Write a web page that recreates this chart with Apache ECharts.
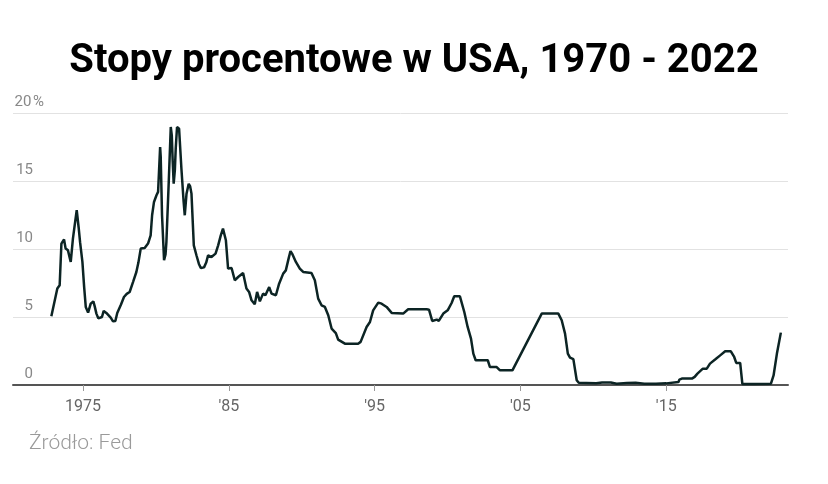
<!DOCTYPE html>
<html>
<head>
<meta charset="utf-8">
<script src="https://cdn.jsdelivr.net/npm/echarts@6/dist/echarts.min.js"></script>
<style>
html,body{margin:0;padding:0;background:#fff;}
#chart{width:828px;height:484px;}
</style>
</head>
<body>
<div id="chart"></div>
<script>
const titleText = 'Stopy procentowe w USA, 1970 - 2022';
const sourceText = 'Źródło: Fed';
const xTickYears = [1975, 1985, 1995, 2005, 2015];
const yTicks = [0, 5, 10, 15, 20];
const years = [
1972.83,1973.0,1973.24,1973.4,1973.52,1973.7,1973.81,1973.97,1974.1,1974.16,1974.31,1974.45,1974.57,1974.7,1974.8,1974.96,
1975.08,1975.19,1975.35,1975.53,1975.71,1975.8,1975.92,1976.05,1976.15,1976.3,1976.42,1976.49,1976.6,1976.72,1976.9,
1977.06,1977.22,1977.35,1977.45,1977.6,1977.81,1978.0,1978.2,1978.43,1978.66,1978.8,1978.96,1979.23,1979.46,1979.64,
1979.74,1979.87,1980.04,1980.15,1980.29,1980.33,1980.42,1980.56,1980.66,1980.72,1980.88,1981.02,1981.09,1981.15,
1981.22,1981.3,1981.36,1981.45,1981.59,1981.75,1981.9,1981.98,1982.1,1982.25,1982.35,1982.44,1982.6,1982.78,1982.95,
1983.08,1983.3,1983.45,1983.58,1983.81,1984.09,1984.27,1984.45,1984.6,1984.66,1984.8,1984.95,1985.19,1985.41,1985.64,
1985.98,1986.21,1986.39,1986.56,1986.78,1986.94,1987.13,1987.35,1987.51,1987.77,1987.93,1988.23,1988.45,1988.73,
1988.91,1989.1,1989.23,1989.37,1989.6,1989.87,1990.1,1990.67,1990.9,1991.13,1991.36,1991.59,1991.82,1992.05,1992.34,
1992.5,1992.96,1993.3,1993.87,1994.04,1994.45,1994.68,1994.9,1995.25,1995.48,1995.82,1996.17,1996.96,1997.3,1997.87,
1998.57,1998.73,1998.95,1999.26,1999.4,1999.71,2000.01,2000.28,2000.46,2000.85,2001.15,2001.38,2001.61,2001.77,2001.93,
2002.76,2002.91,2003.37,2003.6,2004.45,2006.46,2007.6,2007.83,2008.06,2008.25,2008.4,2008.63,2008.86,2009.0,2009.5,
2010.2,2010.6,2011.2,2011.6,2012.3,2012.9,2013.5,2014.3,2015.0,2015.84,2015.9,2016.07,2016.76,2016.95,2017.14,2017.51,
2017.78,2018.0,2018.35,2018.7,2019.04,2019.43,2019.66,2019.8,2020.07,2020.22,2021.0,2022.18,2022.36,2022.59,2022.86
];
const rates = [
5.05,5.9,7.09,7.33,10.4,10.7,10.03,9.9,9.3,9.05,10.76,11.9,12.85,11.6,10.5,9.05,
7.2,5.74,5.32,5.98,6.15,5.8,5.25,4.9,4.88,5.0,5.45,5.42,5.3,5.25,4.95,
4.68,4.7,5.3,5.37,5.9,6.47,6.7,6.84,7.57,8.31,9.0,10.03,10.07,10.4,11.0,
12.48,13.46,13.95,14.2,17.5,16.8,12.5,9.17,9.6,10.5,14.9,18.97,18.36,16.5,
14.8,15.8,17.4,18.97,18.85,15.9,13.5,12.48,14.07,14.8,14.6,14.07,10.27,9.54,8.9,
8.6,8.65,9.0,9.54,9.41,9.66,10.27,11.0,11.5,11.55,10.64,8.56,8.6,7.7,7.94,
8.24,7.09,6.84,6.23,5.93,6.84,6.15,6.72,6.6,7.2,6.72,6.6,7.45,8.19,
8.43,9.29,9.85,9.6,9.05,8.56,8.31,8.24,7.7,6.35,5.86,5.74,5.13,4.15,3.82,
3.34,3.04,3.04,3.04,3.17,4.27,4.63,5.49,6.06,5.98,5.74,5.3,5.25,5.57,5.57,
5.57,5.54,4.71,4.81,4.71,5.25,5.49,6.03,6.52,6.52,5.37,4.27,3.41,2.31,1.82,
1.82,1.32,1.32,1.08,1.08,5.25,5.25,4.76,3.78,2.31,2.01,1.9,0.35,0.16,0.15,
0.13,0.19,0.18,0.09,0.15,0.16,0.1,0.09,0.12,0.22,0.4,0.47,0.47,0.6,0.84,1.2,
1.2,1.57,1.87,2.18,2.48,2.48,2.06,1.62,1.62,0.08,0.08,0.1,0.7,2.31,3.85
];

const chart = echarts.init(document.getElementById('chart'), null, {renderer: 'canvas'});
const seriesData = years.map((y, i) => [y, rates[i]]);

chart.setOption({
  animation: false,
  backgroundColor: '#ffffff',
  title: [
    {
      text: titleText,
      left: 'center',
      top: 37,
      textStyle: {fontFamily: 'Roboto', fontWeight: 'bold', fontSize: 40, color: '#000'}
    },
    {
      text: sourceText,
      left: 24,
      top: 427,
      textStyle: {fontFamily: "'Roboto Light', Roboto", fontWeight: 300, fontSize: 21, color: '#9a9a9a'}
    }
  ],
  grid: {left: 13, right: 40, top: 113, bottom: 99, containLabel: false},
  xAxis: {
    type: 'value',
    min: 1970.2,
    max: 2023.35,
    splitLine: {show: false},
    axisLine: {show: true, lineStyle: {color: '#555', width: 2}},
    axisTick: {show: true, customValues: xTickYears, length: 6, lineStyle: {color: '#999', width: 1}},
    axisLabel: {
      customValues: xTickYears,
      margin: 14,
      fontFamily: 'Roboto',
      fontSize: 16,
      color: '#666',
      formatter: v => (Math.round(v) === 1975 ? '1975' : "'" + String(Math.round(v)).slice(2))
    }
  },
  yAxis: {
    type: 'value',
    min: 0,
    max: 20,
    interval: 5,
    axisLine: {show: false},
    axisTick: {show: false},
    splitLine: {show: true, lineStyle: {color: '#e2e2e2', width: 1}},
    axisLabel: {
      inside: true,
      margin: 0,
      verticalAlign: 'bottom',
      padding: [0, 0, 3, 0],
      fontFamily: 'Roboto',
      fontSize: 15,
      color: '#888',
      formatter: v => '{n|' + v + '}' + (v === 20 ? '{p|%}' : ''),
      rich: {
        n: {width: 20, align: 'right', fontFamily: 'Roboto', fontSize: 15, color: '#888'},
        p: {fontFamily: 'Roboto', fontSize: 15, color: '#888'}
      }
    }
  },
  series: [{
    type: 'line',
    data: seriesData,
    showSymbol: false,
    smooth: false,
    lineStyle: {color: '#0c2424', width: 2.5},
    z: 3
  }]
});
</script>
</body>
</html>
